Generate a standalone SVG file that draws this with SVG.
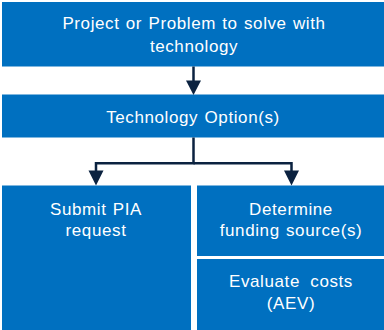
<svg xmlns="http://www.w3.org/2000/svg" width="384" height="330" viewBox="0 0 384 330">
<defs>
<style>
.box{fill:#0070C0;}
.t{font-family:"Liberation Sans",Arial,sans-serif;font-size:17px;fill:#FFFFFF;text-anchor:middle;letter-spacing:0.6px;word-spacing:1px;}
.c{fill:none;stroke:#0B2240;stroke-width:2.5;}
.h{fill:#0B2240;}
</style>
</defs>
<rect width="384" height="330" fill="#FFFFFF"/>
<g id="project">
<rect class="box" x="2" y="2" width="382" height="64.5"/>
<text class="t" x="194" y="29">Project or Problem to solve with</text>
<text class="t" x="194" y="52">technology</text>
</g>
<g id="options">
<rect class="box" x="2" y="94.5" width="382" height="43"/>
<text class="t" x="193" y="123">Technology Option(s)</text>
</g>
<g id="pia">
<rect class="box" x="2" y="185.5" width="189" height="144.5"/>
<text class="t" x="96" y="215">Submit PIA</text>
<text class="t" x="96" y="236">request</text>
</g>
<g id="funding">
<rect class="box" x="197" y="185.5" width="187" height="70.5"/>
<text class="t" x="291" y="215">Determine</text>
<text class="t" x="291" y="236">funding source(s)</text>
</g>
<g id="costs">
<rect class="box" x="197" y="259" width="187" height="71"/>
<text class="t" x="291" y="287" style="word-spacing:5px">Evaluate costs</text>
<text class="t" x="291" y="309">(AEV)</text>
</g>
<g id="connectors">
<path class="c" d="M193.5 66.5 V81"/>
<polygon class="h" points="186,80.5 201,80.5 193.5,95"/>
<path class="c" d="M193.5 137.5 V163.3 H96 V171"/>
<path class="c" d="M193.5 163.3 H291.5 V171"/>
<polygon class="h" points="88.5,170.5 103.5,170.5 96,185.5"/>
<polygon class="h" points="284,170.5 299,170.5 291.5,185.5"/>
</g>
</svg>
